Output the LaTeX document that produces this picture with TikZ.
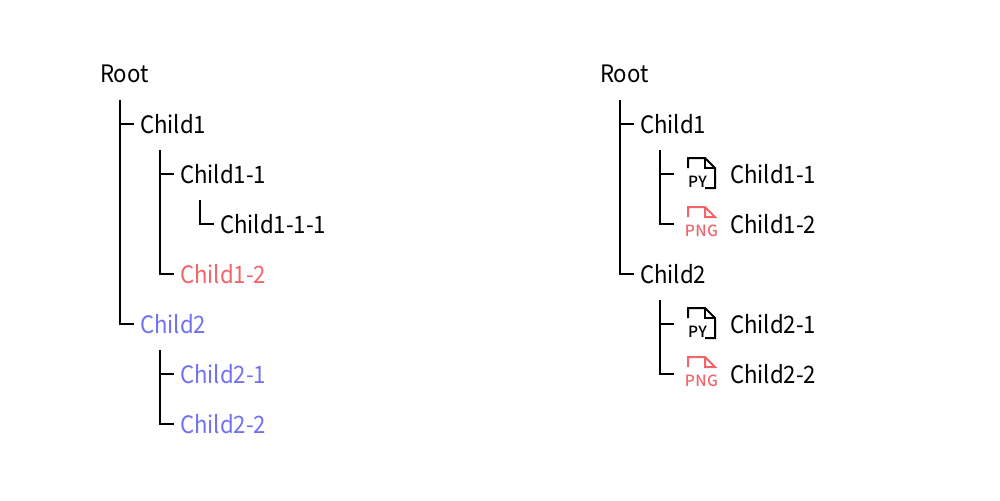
\documentclass[tikz,border=0pt]{standalone}
\usepackage{fontspec}
\setmainfont[FakeStretch=0.925]{Noto Sans CJK JP}
\newfontfamily\iconfont[LetterSpace=3]{Noto Sans CJK JP Medium}
\usepackage{tikz}
\definecolor{treered}{HTML}{F0646A}
\definecolor{treeblue}{HTML}{7272F0}
\tikzset{
	item/.style={anchor=west, inner sep=0pt, outer xsep=0.12cm, outer ysep=0pt, font=\fontsize{13.66pt}{16pt}\selectfont},
	treeline/.style={draw=black, line width=0.022cm},
	iconline/.style={line width=0.04cm, line join=miter},
	icontext/.style={inner sep=0pt, font=\iconfont\fontsize{8.8pt}{9pt}\selectfont},
	pics/pyicon/.style={code={
		\draw[iconline] (0,10) -- (0,0) -- (17,0) -- (27,10) -- (27,30) -- (17,30);
		\draw[iconline] (17,0) -- (17,10) -- (27,10);
		\node[icontext] at (9.5,24) {PY};
	}},
	pics/pngicon/.style={code={
		\draw[iconline, treered] (0,10) -- (0,0) -- (17,0) -- (27,10) -- (17,10) -- (17,0);
		\node[icontext, text=treered] at (13.5,24) {PNG};
	}},
}
\begin{document}
\begin{tikzpicture}[x=0.02cm, y=-0.02cm]
	\useasboundingbox (0,0) rectangle (1000,500);
	% left tree
	\node[item] (lroot) at (94,74) {Root};
	\node[item] (lc1) at (134,124) {Child1};
	\node[item] (lc11) at (174,174) {Child1-1};
	\node[item] (lc111) at (214,224) {Child1-1-1};
	\node[item, text=treered] (lc12) at (174,274) {Child1-2};
	\node[item, text=treeblue] (lc2) at (134,324) {Child2};
	\node[item, text=treeblue] (lc21) at (174,374) {Child2-1};
	\node[item, text=treeblue] (lc22) at (174,424) {Child2-2};
	\coordinate (lstem) at (120,100);
	\coordinate (lstem1) at (160,150);
	\coordinate (lstem11) at (200,200);
	\coordinate (lstem2) at (160,350);
	\draw[treeline] (lstem) |- (lc2.west);
	\draw[treeline] (lstem |- lc1.west) -- (lc1.west);
	\draw[treeline] (lstem1) |- (lc12.west);
	\draw[treeline] (lstem1 |- lc11.west) -- (lc11.west);
	\draw[treeline] (lstem11) |- (lc111.west);
	\draw[treeline] (lstem2) |- (lc22.west);
	\draw[treeline] (lstem2 |- lc21.west) -- (lc21.west);
	% right tree
	\node[item] (rroot) at (594,74) {Root};
	\node[item] (rc1) at (634,124) {Child1};
	\node[item] (rc11) at (724,174) {Child1-1};
	\node[item] (rc12) at (724,224) {Child1-2};
	\node[item] (rc2) at (634,274) {Child2};
	\node[item] (rc21) at (724,324) {Child2-1};
	\node[item] (rc22) at (724,374) {Child2-2};
	\coordinate (rstem) at (620,100);
	\coordinate (rstem1) at (660,150);
	\coordinate (rstem2) at (660,300);
	\coordinate (rtick11) at (674,174);
	\coordinate (rtick12) at (674,224);
	\coordinate (rtick21) at (674,324);
	\coordinate (rtick22) at (674,374);
	\draw[treeline] (rstem) |- (rc2.west);
	\draw[treeline] (rstem |- rc1.west) -- (rc1.west);
	\draw[treeline] (rstem1) |- (rtick12);
	\draw[treeline] (rstem1 |- rtick11) -- (rtick11);
	\draw[treeline] (rstem2) |- (rtick22);
	\draw[treeline] (rstem2 |- rtick21) -- (rtick21);
	\pic at (688,158) {pyicon};
	\pic at (688,207) {pngicon};
	\pic at (688,308) {pyicon};
	\pic at (688,357) {pngicon};
\end{tikzpicture}
\end{document}
